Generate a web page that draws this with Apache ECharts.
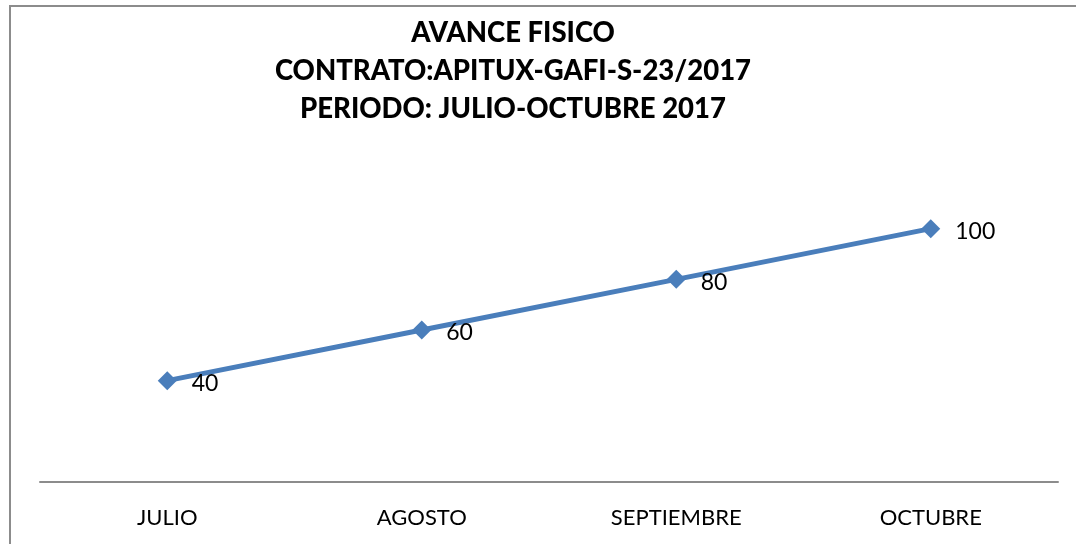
<!DOCTYPE html>
<html><head><meta charset="utf-8">
<script src="https://cdn.jsdelivr.net/npm/echarts@6/dist/echarts.min.js"></script>
<style>html,body{margin:0;padding:0;background:#fff}#c{width:1076px;height:544px}</style>
</head><body><div id="c"></div>
<script>
const categories = ['JULIO', 'AGOSTO', 'SEPTIEMBRE', 'OCTUBRE'];
const avance = [40, 60, 80, 100];
const titleLines = ['AVANCE FISICO', 'CONTRATO:APITUX-GAFI-S-23/2017', 'PERIODO: JULIO-OCTUBRE 2017'];

const chart = echarts.init(document.getElementById('c'));
chart.setOption({
  animation: false,
  backgroundColor: '#fff',
  textStyle: { fontFamily: 'Lato' },
  graphic: [{
    type: 'rect', shape: { x: 10, y: 6, width: 1200, height: 700 },
    style: { fill: 'none', stroke: '#8c8c8c', lineWidth: 2 }, silent: true
  }],
  title: {
    text: titleLines.join('\n'),
    left: 508, top: 9, textAlign: 'center',
    textStyle: { fontFamily: 'Lato', fontWeight: 900, fontSize: 27.5, lineHeight: 38, color: '#000' }
  },
  grid: { left: 40, right: 18, top: 178, bottom: 62 },
  xAxis: {
    type: 'category', data: categories, boundaryGap: true,
    axisLine: { lineStyle: { color: '#8c8c8c', width: 2 } },
    axisTick: { show: false },
    axisLabel: { color: '#000', fontSize: 22, margin: 25, fontFamily: 'Lato' }
  },
  yAxis: { type: 'value', min: 0, max: 120, show: false, splitLine: { show: false } },
  series: [{
    type: 'line', data: avance,
    symbol: 'diamond', symbolSize: 19,
    lineStyle: { color: '#4A7EBB', width: 5 },
    itemStyle: { color: '#4A7EBB' },
    label: { show: true, position: 'right', distance: 15, color: '#000', fontSize: 23, fontFamily: 'Lato', offset: [0, 3] }
  }]
});
</script></body></html>
